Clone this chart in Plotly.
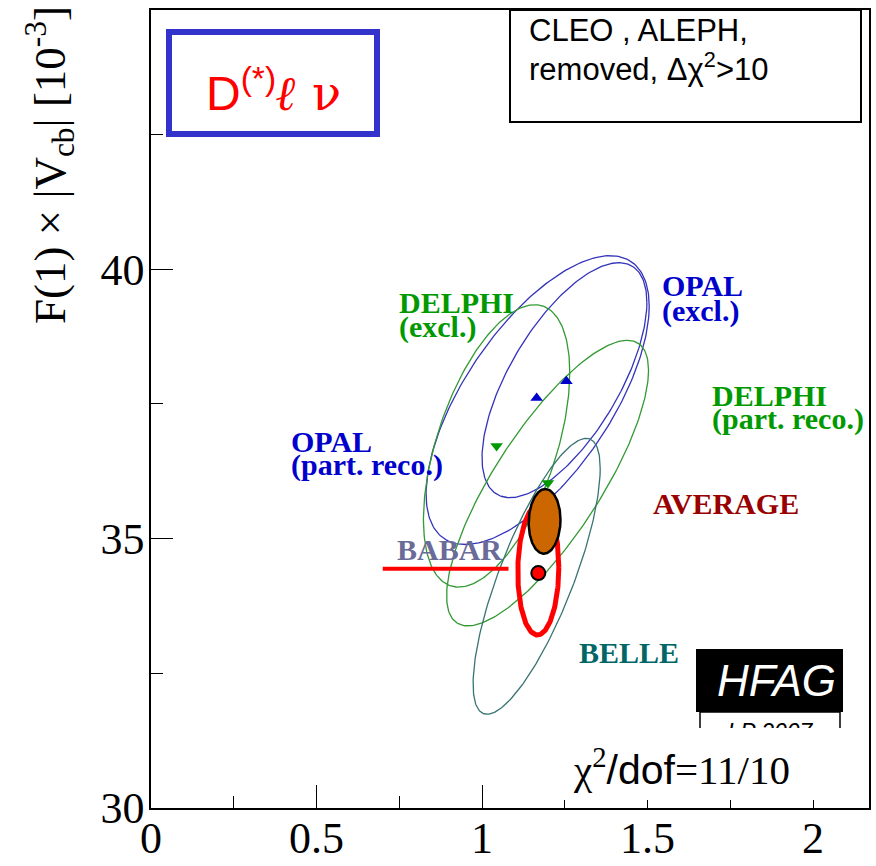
import numpy as np
import plotly.graph_objects as go

# ---------------- data ----------------
# ellipses: centre x, centre y, sigma x, sigma y, correlation
ell_names  = ["OPAL (part. reco.)", "OPAL (excl.)", "DELPHI (excl.)", "DELPHI (part. reco.)", "BELLE"]
ell_cx     = [1.168, 1.249, 1.044, 1.198, 1.165]
ell_cy     = [37.57, 37.94, 36.72, 36.03, 34.30]
ell_sx     = [0.337, 0.249, 0.221, 0.305, 0.192]
ell_sy     = [2.68, 2.18, 2.62, 2.65, 2.56]
ell_rho    = [0.65, 0.66, 0.52, 0.79, 0.78]
ell_colors = ["#3333BB", "#3333BB", "#339933", "#339933", "#3A7373"]

# BABAR (highlighted) ellipse and point
babar_c   = (1.170, 34.42)
babar_s   = (0.062, 1.21)
babar_rho = 0.04
babar_pt  = (1.170, 34.36)
babar_line_x = [0.70, 1.08]
babar_line_y = [34.44, 34.44]

# average
avg_c   = (1.189, 35.32)
avg_s   = (0.048, 0.60)
avg_rho = 0.05

# central values markers
opal_x   = [1.165, 1.255]
opal_y   = [37.61, 37.92]
delphi_x = [1.044, 1.199]
delphi_y = [36.72, 36.03]

x_range = [0, 2.169]
y_range = [30, 44.81]
x_ticks = [0, 0.5, 1, 1.5, 2]
x_tick_text = ["0", "0.5", "1", "1.5", "2"]
x_minor = [0.25, 0.75, 1.25, 1.75]
y_ticks = [30, 35, 40]
y_tick_text = ["30", "35", "40"]
y_minor = [32.5, 37.5, 42.5]


def ellipse(cx, cy, sx, sy, rho, n=240):
    t = np.linspace(0, 2 * np.pi, n)
    x = cx + sx * np.cos(t)
    y = cy + sy * (rho * np.cos(t) + np.sqrt(1 - rho ** 2) * np.sin(t))
    return x, y


# ---------------- geometry helpers ----------------
W, H = 876, 866
L, R, T, B = 151, 7, 10, 58
PW, PH = W - L - R, H - T - B


def fx(px):
    return (px - L) / PW


def fy(py):
    return (H - B - py) / PH


def dx(px):
    return x_range[0] + fx(px) * (x_range[1] - x_range[0])


def dy(py):
    return y_range[0] + fy(py) * (y_range[1] - y_range[0])


serif = "Liberation Serif"
sans = "Liberation Sans"

fig = go.Figure()

for i in range(len(ell_names)):
    ex, ey = ellipse(ell_cx[i], ell_cy[i], ell_sx[i], ell_sy[i], ell_rho[i])
    fig.add_trace(go.Scatter(x=ex, y=ey, mode="lines", name=ell_names[i],
                             line=dict(color=ell_colors[i], width=1.3),
                             hoverinfo="skip"))

# red babar line
fig.add_trace(go.Scatter(x=babar_line_x, y=babar_line_y, mode="lines",
                         line=dict(color="#FF0000", width=4), hoverinfo="skip"))
# red babar ellipse
bx, by = ellipse(babar_c[0], babar_c[1], babar_s[0], babar_s[1], babar_rho)
fig.add_trace(go.Scatter(x=bx, y=by, mode="lines",
                         line=dict(color="#FF0000", width=5), hoverinfo="skip"))
# average filled ellipse
ax_, ay_ = ellipse(avg_c[0], avg_c[1], avg_s[0], avg_s[1], avg_rho)
fig.add_trace(go.Scatter(x=ax_, y=ay_, mode="lines", fill="toself",
                         fillcolor="#CC6600",
                         line=dict(color="#000000", width=2.5), hoverinfo="skip"))
# babar point
fig.add_trace(go.Scatter(x=[babar_pt[0]], y=[babar_pt[1]], mode="markers",
                         marker=dict(symbol="circle", size=14, color="#FF0000",
                                     line=dict(color="#000000", width=2)),
                         hoverinfo="skip"))
# OPAL / DELPHI central values
fig.add_trace(go.Scatter(x=opal_x, y=opal_y, mode="markers",
                         marker=dict(symbol="triangle-up", size=11, color="#0000CC"),
                         hoverinfo="skip"))
fig.add_trace(go.Scatter(x=delphi_x, y=delphi_y, mode="markers",
                         marker=dict(symbol="triangle-down", size=11, color="#009900"),
                         hoverinfo="skip"))
# "LP 2007" under the HFAG logo (text trace so the cover box can cut it)
fig.add_trace(go.Scatter(x=[dx(770)], y=[dy(734)], mode="text", text=["LP 2007"],
                         textposition="middle center",
                         textfont=dict(family=sans, size=23, color="black", style="italic"),
                         hoverinfo="skip"))

shapes = []
annotations = []

# top-left box
shapes.append(dict(type="rect", xref="paper", yref="paper",
                   x0=fx(169), x1=fx(377), y0=fy(134), y1=fy(32),
                   line=dict(color="#3333CC", width=6), fillcolor="white", layer="above"))
annotations.append(dict(xref="paper", yref="paper", x=fx(273), y=fy(90),
                        xanchor="center", yanchor="middle", showarrow=False,
                        text="D<sup>(*)</sup><span style=\"font-family:DejaVu Serif\"><b><i>ℓ</i></b> ν</span>",
                        font=dict(family=sans, size=48, color="#FF0000")))

# top-right box
shapes.append(dict(type="rect", xref="paper", yref="paper",
                   x0=fx(510), x1=fx(861), y0=fy(122), y1=fy(10),
                   line=dict(color="#000000", width=2), fillcolor="white", layer="above"))
annotations.append(dict(xref="paper", yref="paper", x=fx(527), y=fy(30),
                        xanchor="left", yanchor="middle", showarrow=False,
                        text="CLEO , ALEPH,", font=dict(family=sans, size=31, color="black")))
annotations.append(dict(xref="paper", yref="paper", x=fx(527), y=fy(67),
                        xanchor="left", yanchor="middle", showarrow=False,
                        text="removed, Δχ<sup>2</sup>>10", font=dict(family=sans, size=31, color="black")))

# HFAG logo (below traces so that the LP 2007 text shows on it)
shapes.append(dict(type="rect", xref="paper", yref="paper",
                   x0=fx(696), x1=fx(843), y0=fy(712), y1=fy(649),
                   line=dict(color="#000000", width=0), fillcolor="#000000", layer="below"))
shapes.append(dict(type="rect", xref="paper", yref="paper",
                   x0=fx(700), x1=fx(840), y0=fy(750), y1=fy(712),
                   line=dict(color="#000000", width=1.5), fillcolor="white", layer="below"))
annotations.append(dict(xref="paper", yref="paper", x=fx(776), y=fy(680),
                        xanchor="center", yanchor="middle", showarrow=False,
                        text="<i>HFAG</i>", font=dict(family=sans, size=44, color="white")))
# white cover with chi2
shapes.append(dict(type="rect", xref="paper", yref="paper",
                   x0=fx(552), x1=fx(866), y0=fy(800), y1=fy(728),
                   line=dict(width=0), fillcolor="white", layer="above"))
annotations.append(dict(xref="paper", yref="paper", x=fx(571), y=fy(767),
                        xanchor="left", yanchor="middle", showarrow=False,
                        text="<span style=\"font-family:Liberation Serif\">χ<sup>2</sup></span>/dof"
                             "<span style=\"font-family:Liberation Serif\">=11/10</span>",
                        font=dict(family=sans, size=41, color="black")))

# experiment labels (data coordinates)
labels = [
    ("DELPHI", 0.743, 39.39, "#009900"),
    ("(excl.)", 0.743, 38.92, "#009900"),
    ("OPAL", 1.538, 39.69, "#0000CC"),
    ("(excl.)", 1.538, 39.22, "#0000CC"),
    ("DELPHI", 1.689, 37.66, "#009900"),
    ("(part. reco.)", 1.689, 37.22, "#009900"),
    ("OPAL", 0.417, 36.80, "#0000CC"),
    ("(part. reco.)", 0.417, 36.36, "#0000CC"),
    ("AVERAGE", 1.510, 35.66, "#990000"),
    ("BABAR", 0.737, 34.79, "#6B6B99"),
    ("BELLE", 1.287, 32.89, "#006666"),
]
for txt, lx, ly, col in labels:
    annotations.append(dict(xref="x", yref="y", x=lx, y=ly, xanchor="left", yanchor="middle",
                            showarrow=False, text="<b>" + txt + "</b>",
                            font=dict(family=serif, size=30, color=col)))

# y axis title
annotations.append(dict(xref="paper", yref="paper", x=fx(50), y=fy(4),
                        xanchor="center", yanchor="top", showarrow=False, textangle=-90,
                        text="F(1) × |V<sub>cb</sub>| [10<sup>-3</sup>]",
                        font=dict(family=serif, size=45, color="black")))

fig.update_layout(
    width=W, height=H,
    margin=dict(l=L, r=R, t=T, b=B, pad=0, autoexpand=False),
    paper_bgcolor="white", plot_bgcolor="white",
    showlegend=False,
    shapes=shapes, annotations=annotations,
    xaxis=dict(range=x_range, showgrid=False, zeroline=False, automargin=False,
               showline=True, linecolor="black", linewidth=1.5, mirror=True,
               ticks="inside", ticklen=23, tickwidth=1.2, tickcolor="black",
               tickvals=x_ticks, ticktext=x_tick_text, ticklabelstandoff=-10,
               minor=dict(ticks="inside", ticklen=12, tickwidth=1.2, tickcolor="black",
                          tickvals=x_minor, showgrid=False),
               tickfont=dict(family=serif, size=44, color="black")),
    yaxis=dict(range=y_range, showgrid=False, zeroline=False, automargin=False,
               showline=True, linecolor="black", linewidth=1.5, mirror=True,
               ticks="inside", ticklen=22, tickwidth=1.2, tickcolor="black",
               tickvals=y_ticks, ticktext=y_tick_text, ticklabelstandoff=-4,
               minor=dict(ticks="inside", ticklen=12, tickwidth=1.2, tickcolor="black",
                          tickvals=y_minor, showgrid=False),
               tickfont=dict(family=serif, size=44, color="black")),
)

fig.write_html("out.html")
